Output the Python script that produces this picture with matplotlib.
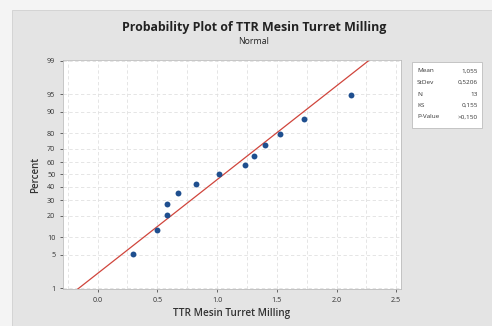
import matplotlib
matplotlib.use("Agg")
import matplotlib.pyplot as plt
from matplotlib.patches import Rectangle
from statistics import NormalDist

plt.rcParams['font.family'] = ['Open Sans', 'DejaVu Sans']

# data
ttr = [0.30, 0.50, 0.58, 0.58, 0.67, 0.82, 1.02, 1.23, 1.31, 1.40, 1.53, 1.73, 2.12]
percent = [5.2, 12.7, 20.1, 27.6, 35.1, 42.5, 50.0, 57.5, 64.9, 72.4, 79.9, 87.3, 94.8]
mean = 1.055
stdev = 0.5206
y_ticks = [1, 5, 10, 20, 30, 40, 50, 60, 70, 80, 90, 95, 99]
x_ticks = [0.0, 0.5, 1.0, 1.5, 2.0, 2.5]
stats_names = ['Mean', 'StDev', 'N', 'KS', 'P-Value']
stats_values = ['1,055', '0,5206', '13', '0,155', '>0,150']

nd = NormalDist()
z = lambda p: nd.inv_cdf(p / 100.0)

fig = plt.figure(figsize=(4.92, 3.26), dpi=100, facecolor='#f4f4f4')
# grey panel
panel = Rectangle((12/492, 0), 1, 1 - 10/326, transform=fig.transFigure,
                  facecolor='#e4e4e4', edgecolor='#d0d0d0', lw=0.6, zorder=-5)
fig.patches.append(panel)

ax = fig.add_axes([63/492, 37/326, 338/492, 229/326])
ax.set_zorder(2)
ax.set_facecolor('white')

zlo, zhi = z(0.95), z(99.05)
ax.set_ylim(zlo, zhi)
ax.set_xlim(-0.29, 2.54)

# fitted line
ax.plot([mean + stdev*zlo, mean + stdev*zhi], [zlo, zhi], color='#d0453c', lw=0.9, zorder=2)
ax.scatter(ttr, [z(p) for p in percent], s=18, color='#1f4f8f', zorder=3, linewidths=0)

ax.set_yticks([z(p) for p in y_ticks])
ax.set_yticklabels([str(p) for p in y_ticks])
ax.set_xticks(x_ticks)
ax.set_xticklabels(['%.1f' % v for v in x_ticks])
ax.set_xticks([-0.25, 0.25, 0.75, 1.25, 1.75, 2.25], minor=True)
ax.grid(True, which='both', color='#e0e0e0', ls=(0, (4, 3)), lw=0.6)
ax.set_axisbelow(True)
ax.tick_params(axis='both', labelsize=5.2, colors='#333333', length=2, width=0.5)
ax.tick_params(axis='x', which='minor', length=0)
for s in ax.spines.values():
    s.set_color('#bdbdbd')
    s.set_linewidth(0.6)

ax.set_xlabel('TTR Mesin Turret Milling', fontsize=7.2, fontweight='semibold', color='#333333', labelpad=3)
ax.set_ylabel('Percent', fontsize=7, fontweight='semibold', color='#333333', labelpad=4)

fig.text(254/492, 1 - 28/326, 'Probability Plot of TTR Mesin Turret Milling', ha='center', va='center',
         fontsize=8.9, fontweight='bold', color='#222222')
fig.text(254/492, 1 - 41/326, 'Normal', ha='center', va='center', fontsize=6.3, color='#222222')

# statistics box
fig.patches.append(Rectangle((412/492, 1 - 128/326), 70/492, 66/326, transform=fig.transFigure,
                             facecolor='white', edgecolor='#bdbdbd', lw=0.6, zorder=1))
for i, (n, v) in enumerate(zip(stats_names, stats_values)):
    yy = 1 - (71 + i*11.5)/326
    fig.text(417/492, yy, n, fontsize=4.6, color='#333333', va='center')
    fig.text(478/492, yy, v, fontsize=4.6, color='#333333', va='center', ha='right')

fig.savefig('out.png', dpi=100, facecolor=fig.get_facecolor())
